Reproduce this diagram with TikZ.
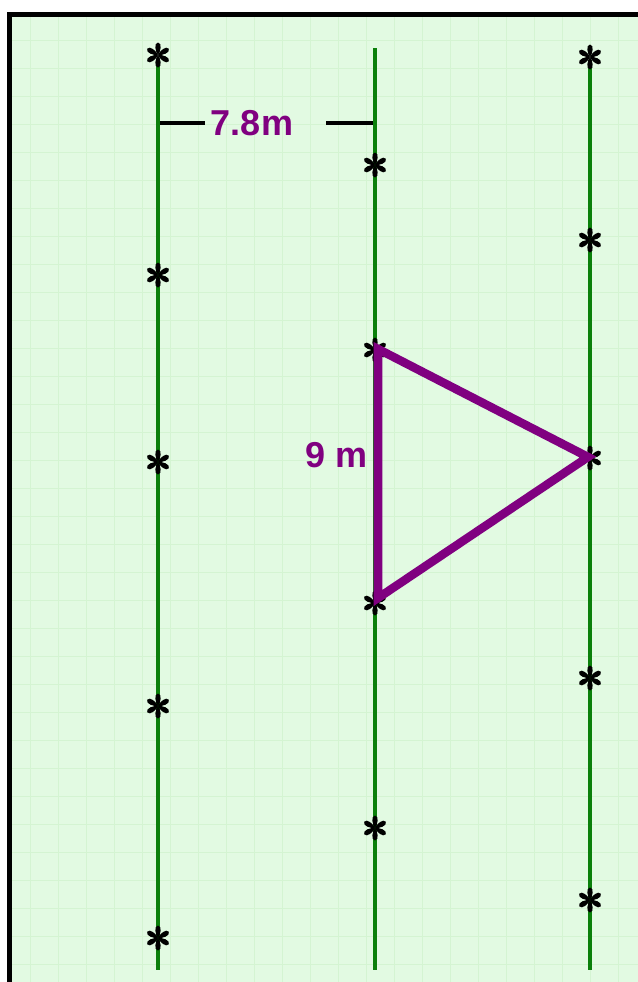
\documentclass[tikz,border=0pt]{standalone}
\usepackage{fontspec}
\setmainfont{Liberation Sans}
\definecolor{paper}{RGB}{226,250,226}
\definecolor{gridc}{RGB}{212,244,210}
\definecolor{rowgreen}{RGB}{10,128,10}
\definecolor{plum}{RGB}{128,0,128}

\begin{document}
\begin{tikzpicture}[x=.75pt,y=-.75pt,
  font=\bfseries\fontsize{27}{32}\selectfont,
  gridline/.style={draw=gridc,line width=.7pt},
  row/.style={draw=rowgreen,line width=3pt},
  dim/.style={draw=black,line width=3pt},
  tri/.style={draw=plum,line width=6.4pt,line join=miter},
  lbl/.style={text=plum,inner sep=0pt},
  plant/.pic={
    \foreach \a in {30,90,...,330}{
      \fill[black,rotate=\a] (0,0) .. controls (3,-2.5) and (12,-4.5) .. (12.5,0)
        .. controls (12,4.5) and (3,2.5) .. (0,0);
    }
  }]
\useasboundingbox (0,0) rectangle (638,982);

% Paper with a faint grid and the frame on two sides.
\fill[paper] (12,17) rectangle (638,982);
\foreach \gx in {30,58,...,638}{
  \draw[gridline] (\gx,17) -- (\gx,982);
}
\foreach \gy in {40,68,...,982}{
  \draw[gridline] (12,\gy) -- (638,\gy);
}
\draw[black,line width=3.75pt] (9.5,982) -- (9.5,14.5) -- (638,14.5);

% Planting rows.
\foreach \name/\xr/\ytop in {rowa/158/60, rowb/375/48, rowc/590/60}{
  \coordinate (\name top) at (\xr,\ytop);
  \coordinate (\name end) at (\xr,970);
  \draw[row] (\name top) -- (\name end);
}
\foreach \xr/\yp in {158/55, 158/275, 158/462, 158/706, 158/938,
  375/165, 375/350, 375/603, 375/828,
  590/57, 590/240, 590/458, 590/678, 590/900}{
  \pic at (\xr,\yp) {plant};
}

% Row spacing.
\node[lbl] (dimtext) at (252,123) {7.8m};
\coordinate (dima) at (160,123);
\coordinate (dimb) at (205,123);
\coordinate (dimc) at (326,123);
\coordinate (dimd) at (373,123);
\draw[dim] (dima) -- (dimb);
\draw[dim] (dimc) -- (dimd);

% Triangular spacing between plants.
\coordinate (tritop) at (378,349);
\coordinate (tribot) at (378,598);
\coordinate (triright) at (588,457);
\draw[tri] (tritop) -- (triright) -- (tribot) -- cycle;
\node[lbl,anchor=east] (side) at (368,455) {9 m};
\end{tikzpicture}
\end{document}
